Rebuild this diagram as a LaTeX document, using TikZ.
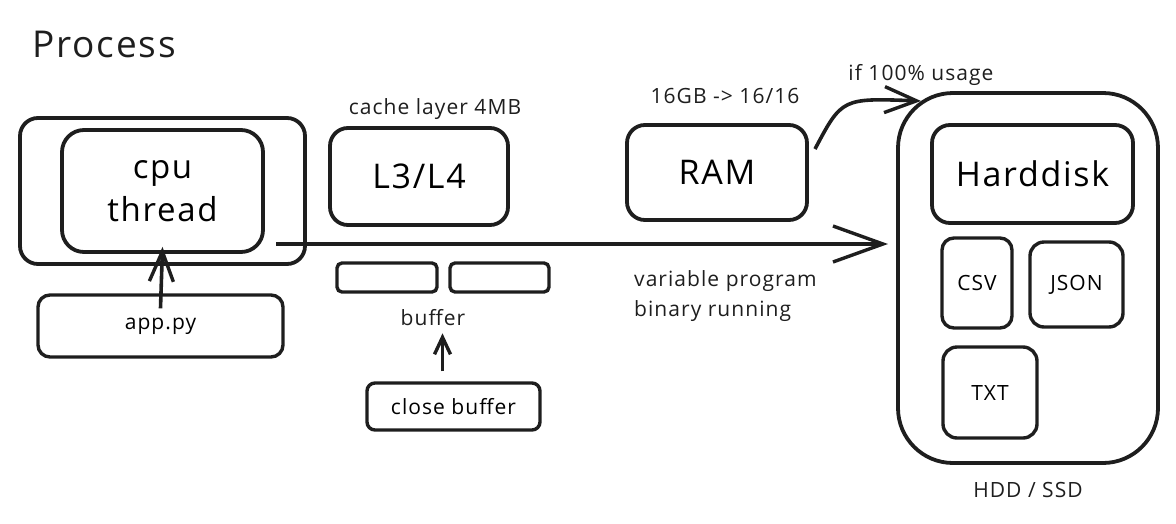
\documentclass[tikz,border=0pt]{standalone}
\usepackage{fontspec}
\setmainfont{Open Sans}[LetterSpace=5]
\usetikzlibrary{arrows.meta}
\definecolor{ink}{HTML}{1E1E1E}
\begin{document}
\begin{tikzpicture}[x=1pt,y=-1pt,
  box/.style={draw=ink,line width=3.8pt,rounded corners=18pt,inner sep=0pt},
  sbox/.style={draw=ink,line width=3.4pt,rounded corners=8pt,inner sep=0pt},
  lbl/.style={text=ink,inner sep=0pt},
  small/.style={font=\fontsize{21}{24}\selectfont},
  big/.style={font=\fontsize{34}{40}\selectfont},
  conn/.style={draw=ink,line width=3.6pt}]
\useasboundingbox (0,0) rectangle (1176,523);
% title
\node[lbl,font=\fontsize{37}{42}\selectfont] (title) at (104,44) {Process};
% cpu
\node[box,minimum width=285,minimum height=146] (outer) at (162.5,191) {};
\node[box,rounded corners=22pt,minimum width=201,minimum height=122,align=center,font=\fontsize{33}{43}\selectfont] (thread) at (162.5,191) {cpu\\thread};
\node[sbox,rounded corners=12pt,minimum width=245,minimum height=62,small] (app) at (160.5,326) {app.py};
% cache
\node[lbl,small] (cachelbl) at (435,109) {cache layer 4MB};
\node[box,minimum width=178,minimum height=97,big] (l3) at (419,176.5) {L3/L4};
\node[sbox,rounded corners=5pt,minimum width=100,minimum height=29] (buf1) at (387,277.5) {};
\node[sbox,rounded corners=5pt,minimum width=99,minimum height=29] (buf2) at (499.5,277.5) {};
\node[lbl,small] (buflbl) at (433,318) {buffer};
\node[sbox,minimum width=173,minimum height=47,small] (close) at (453.5,406.5) {close buffer};
% RAM
\node[lbl,small] (ramlbl) at (725,96) {16GB -> 16/16};
\node[box,minimum width=180,minimum height=95,big] (ram) at (717,172.5) {RAM};
\node[lbl,font=\fontsize{21}{30}\selectfont,align=left,anchor=west] (varlbl) at (634,296) {variable program\\binary running};
% HDD
\node[box,rounded corners=55pt,minimum width=260,minimum height=370] (hdd) at (1028,278) {};
\node[box,minimum width=201,minimum height=98,big] (hd) at (1032.5,174) {Harddisk};
\node[sbox,rounded corners=12pt,minimum width=70,minimum height=90,small] (csv) at (977,283) {CSV};
\node[sbox,rounded corners=14pt,minimum width=93,minimum height=85,small] (json) at (1076.5,284.5) {JSON};
\node[sbox,rounded corners=14pt,minimum width=94,minimum height=91,small] (txt) at (990,392.5) {TXT};
\node[lbl,small] (hddlbl) at (1028,490) {HDD / SSD};
\node[lbl,small] (uselbl) at (921,75) {if 100\% usage};
% connectors
\coordinate (mstart) at (276,244);
\coordinate (mend) at (888,244);
\draw[conn,-{Straight Barb[length=50pt,width=36pt,line width=3.4pt]}] (mstart) -- (mend);
\draw[conn,-{Straight Barb[length=30pt,width=24pt,line width=3.4pt]}] ([yshift=-15pt]app.north) -- ([yshift=7pt]thread.south);
\coordinate (cstart) at ([xshift=-11pt,yshift=10pt]close.north);
\coordinate (cend) at ([xshift=-11pt,yshift=48pt]close.north);
\draw[conn,-{Straight Barb[length=17pt,width=16pt,line width=3.4pt]}] (cstart) -- (cend);
\coordinate (rstart) at (815,149);
\coordinate (rend) at (921,101);
\draw[conn,-{Straight Barb[length=32pt,width=26pt,line width=3.4pt]}] (rstart) .. controls (842,98) .. (rend);
\end{tikzpicture}
\end{document}
